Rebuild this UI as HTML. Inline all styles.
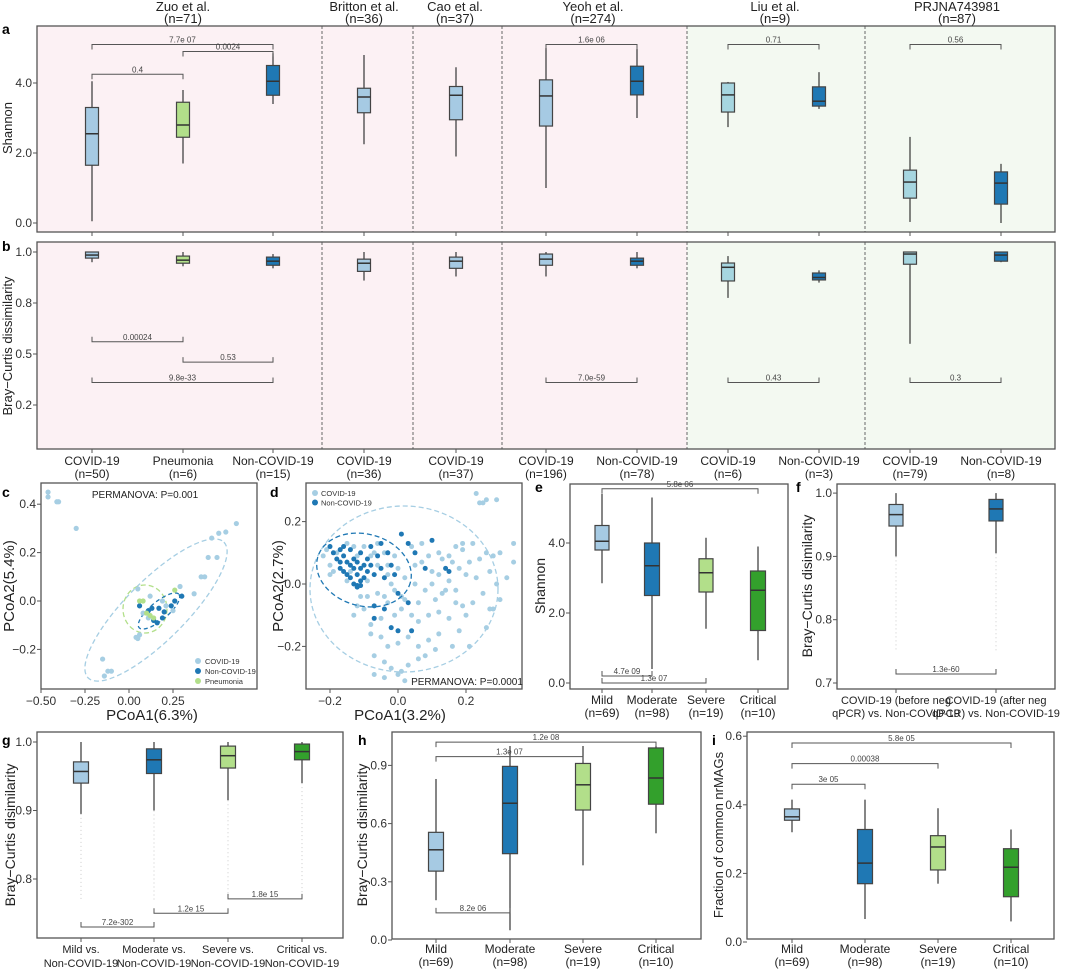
<!DOCTYPE html>
<html><head><meta charset="utf-8">
<style>
body{margin:0;background:#fff;}
svg{display:block;font-family:"Liberation Sans",Arial,sans-serif;}
</style></head>
<body>
<svg id="fig" width="1080" height="973" viewBox="0 0 1080 973" xmlns="http://www.w3.org/2000/svg"></svg>
<script>
// ---------- DATA ----------
const abCategories = ["COVID-19","Pneumonia","Non-COVID-19","COVID-19","COVID-19","COVID-19","Non-COVID-19","COVID-19","Non-COVID-19","COVID-19","Non-COVID-19"];
const abCounts = ["(n=50)","(n=6)","(n=15)","(n=36)","(n=37)","(n=196)","(n=78)","(n=6)","(n=3)","(n=79)","(n=8)"];
const abColorKey = ["lb","lg","db","lb","lb","lb","db","lt","db","lt","db"];
const studyNames = ["Zuo et al.","Britton et al.","Cao et al.","Yeoh et al.","Liu et al.","PRJNA743981"];
const studyNs = ["(n=71)","(n=36)","(n=37)","(n=274)","(n=9)","(n=87)"];
const shannonLow = [0.05,1.7,3.4,2.25,1.9,1.0,3.0,2.74,3.26,0.03,0.0];
const shannonQ1 = [1.65,2.45,3.65,3.15,2.95,2.77,3.66,3.17,3.34,0.71,0.54];
const shannonMed = [2.55,2.8,4.05,3.6,3.65,3.63,4.05,3.66,3.48,1.17,1.14];
const shannonQ3 = [3.3,3.45,4.5,3.85,3.9,4.09,4.48,4.0,3.89,1.51,1.46];
const shannonHigh = [4.05,3.8,4.85,4.8,4.45,5.0,4.97,4.03,4.31,2.46,1.69];
const bcLow = [0.95,0.93,0.92,0.86,0.88,0.88,0.92,0.775,0.85,0.55,0.95];
const bcQ1 = [0.97,0.945,0.935,0.905,0.92,0.935,0.935,0.858,0.863,0.94,0.955];
const bcMed = [0.985,0.96,0.955,0.945,0.955,0.965,0.955,0.925,0.875,0.99,0.985];
const bcQ3 = [1.0,0.98,0.975,0.965,0.975,0.99,0.97,0.946,0.897,1.0,1.0];
const bcHigh = [1.0,1.0,0.99,1.0,1.0,1.0,1.0,0.98,0.91,1.0,1.0];
const shannonTicks = [0,2,4];
const shannonTickLabels = ["0.0","2.0","4.0"];
const bTicks = [1.0,0.75,0.5,0.25];
const bTickLabels = ["1.0","0.8","0.5","0.2"];
const aBrackets = [[0,2,"7.7e 07",5.1],[1,2,"0.0024",4.9],[0,1,"0.4",4.25],[5,6,"1.6e 06",5.1],[7,8,"0.71",5.1],[9,10,"0.56",5.1]];
const bBrackets = [[0,1,"0.00024",0.56],[1,2,"0.53",0.46],[0,2,"9.8e-33",0.36],[5,6,"7.0e-59",0.36],[7,8,"0.43",0.36],[9,10,"0.3",0.36]];

const cCovid = [[-0.46,0.45],[-0.46,0.43],[-0.41,0.41],[-0.40,0.41],[-0.30,0.30],[0.61,0.32],[0.55,0.285],[0.51,0.28],[0.47,0.26],[0.45,0.18],[0.50,0.18],[0.41,0.10],[0.43,0.10],[0.37,0.03],[0.29,0.06],[-0.15,-0.24],[-0.14,-0.31],[-0.12,-0.29],[-0.10,-0.29],[0.05,0.05],[0.04,-0.15],[0.05,-0.155],[0.06,-0.14],[0.11,-0.07],[0.19,0.00],[0.12,0.02],[0.21,-0.02],[0.25,-0.04],[0.08,-0.05]];
const cNonCovid = [[0.06,-0.02],[0.11,-0.04],[0.13,-0.03],[0.17,-0.03],[0.19,-0.07],[0.14,-0.08],[0.20,-0.045],[0.24,-0.02],[0.26,0.00],[0.30,0.02],[0.16,-0.09]];
const cPneumonia = [[0.06,0.00],[0.08,0.00],[0.26,0.045],[0.10,-0.05],[0.12,-0.06],[0.14,-0.07]];
const cXTicks = [-0.5,-0.25,0,0.25];
const cXTickLabels = ["−0.50","−0.25","0.00","0.25"];
const cYTicks = [0.4,0.2,0,-0.2];
const cYTickLabels = ["0.4","0.2","0.0","−0.2"];

const dNonCovid = [[-0.2,0.12],[-0.19,0.10],[-0.18,0.08],[-0.17,0.07],[-0.17,0.05],[-0.16,0.09],[-0.16,0.04],[-0.15,0.07],[-0.15,0.03],[-0.14,0.11],[-0.14,0.06],[-0.14,0.02],[-0.13,0.08],[-0.13,0.05],[-0.13,0.00],[-0.12,0.03],[-0.12,0.07],[-0.12,-0.01],[-0.11,0.01],[-0.11,0.05],[-0.11,0.10],[-0.10,0.06],[-0.10,0.02],[-0.09,0.08],[-0.09,0.04],[-0.08,0.12],[-0.08,0.06],[-0.07,0.03],[-0.06,0.09],[-0.05,0.13],[-0.05,0.05],[-0.04,0.02],[-0.03,0.10],[-0.02,0.06],[-0.01,0.03],[0.00,-0.03],[0.01,0.16],[0.03,0.13],[0.05,0.10],[0.08,0.05],[0.10,0.14],[0.14,0.05],[0.15,0.04],[-0.07,-0.07],[-0.07,-0.11],[-0.04,-0.08],[-0.02,-0.14],[0.00,-0.15],[0.03,-0.06],[0.04,-0.15],[-0.11,-0.005],[-0.12,-0.005],[-0.17,0.11],[-0.16,0.12]];
const dCovid = [[-0.21,0.11],[-0.22,0.09],[-0.20,0.06],[-0.19,0.04],[-0.18,0.10],[-0.15,0.13],[-0.13,0.12],[-0.10,0.12],[-0.07,0.10],[-0.06,0.13],[-0.04,0.10],[-0.03,0.06],[-0.01,0.09],[0.00,0.05],[0.02,0.02],[0.04,0.12],[0.07,0.13],[0.09,0.09],[0.12,0.10],[0.13,0.08],[0.15,0.09],[0.17,0.12],[0.19,0.11],[0.21,0.07],[0.22,0.13],[0.24,0.08],[0.26,0.10],[0.28,0.09],[0.30,0.10],[0.34,0.13],[0.34,0.07],[0.23,0.29],[0.24,0.26],[0.25,0.26],[0.26,0.27],[0.29,0.27],[0.19,0.13],[0.10,0.04],[0.12,0.03],[0.15,0.01],[0.18,0.05],[0.20,0.03],[0.23,0.02],[0.27,0.04],[0.29,0.00],[0.25,-0.03],[0.27,-0.08],[0.28,-0.08],[0.26,-0.14],[0.20,-0.10],[0.21,-0.20],[0.17,-0.06],[0.14,-0.02],[0.11,-0.05],[0.08,-0.02],[0.06,-0.06],[0.05,0.00],[0.02,-0.05],[-0.01,-0.02],[-0.04,-0.04],[-0.06,-0.03],[-0.09,-0.04],[-0.10,-0.08],[-0.08,-0.13],[-0.05,-0.11],[-0.03,-0.06],[-0.01,-0.10],[0.01,-0.08],[0.04,-0.10],[0.06,-0.12],[0.09,-0.10],[0.12,-0.09],[0.15,-0.11],[0.18,-0.15],[0.12,-0.16],[0.09,-0.18],[0.06,-0.20],[0.03,-0.17],[0.00,-0.19],[-0.03,-0.20],[-0.05,-0.17],[-0.08,-0.16],[-0.07,-0.23],[-0.04,-0.25],[-0.02,-0.27],[0.00,-0.29],[0.01,-0.28],[0.03,-0.26],[0.06,-0.24],[0.08,-0.23],[0.11,-0.21],[0.16,-0.20],[-0.07,-0.29],[-0.04,-0.30],[0.02,-0.31],[-0.12,-0.07],[-0.13,-0.10],[-0.11,-0.04],[-0.15,0.01],[-0.14,0.04],[-0.12,0.09],[-0.09,0.01],[-0.06,0.06],[-0.08,0.09],[-0.02,0.00],[0.01,-0.04],[0.07,0.07],[0.10,0.00],[0.13,-0.03],[0.16,0.07],[0.05,0.06],[-0.03,0.03],[-0.20,0.03],[0.32,0.02],[0.30,-0.05],[0.22,-0.06],[0.17,-0.02],[0.19,-0.07]];
const dXTicks = [-0.2,0,0.2];
const dXTickLabels = ["−0.2","0.0","0.2"];
const dYTicks = [0.2,0,-0.2];
const dYTickLabels = ["0.2","0.0","−0.2"];

const sevCategories = ["Mild","Moderate","Severe","Critical"];
const sevCounts = ["(n=69)","(n=98)","(n=19)","(n=10)"];
const sevColorKey = ["lb","db","lg","dg"];
const eLow = [2.85,0.4,1.55,0.65], eQ1=[3.8,2.5,2.6,1.5], eMed=[4.05,3.35,3.15,2.65], eQ3=[4.5,4.0,3.55,3.2], eHigh=[5.4,5.3,4.15,3.9];
const eWidths = [14,15,14,15];
const eTicks=[0,2,4], eTickLabels=["0.0","2.0","4.0"];
const eBrackets = [[0,3,"5.8e 06",5.55,1],[0,1,"4.7e 09",0.2,-1],[0,2,"1.3e 07",0.0,-1]];

const fCategories1 = ["COVID-19 (before neg","COVID-19 (after neg"];
const fCategories2 = ["qPCR) vs. Non-COVID-19","qPCR) vs. Non-COVID-19"];
const fLow=[0.90,0.905], fQ1=[0.948,0.956], fMed=[0.966,0.975], fQ3=[0.982,0.99], fHigh=[1.0,1.0];
const fTicks=[1.0,0.9,0.8,0.7], fTickLabels=["1.0","0.9","0.8","0.7"];

const gCategories1 = ["Mild vs.","Moderate vs.","Severe vs.","Critical vs."];
const gLow=[0.895,0.9,0.915,0.94], gQ1=[0.94,0.954,0.962,0.974], gMed=[0.957,0.974,0.98,0.986], gQ3=[0.971,0.99,0.994,0.997], gHigh=[1.0,1.0,1.0,1.0];
const gTicks=[1.0,0.9,0.8], gTickLabels=["1.0","0.9","0.8"];
const gBrackets=[[0,1,"7.2e-302",0.73],[1,2,"1.2e 15",0.75],[2,3,"1.8e 15",0.771]];

const hLow=[0.205,0.05,0.385,0.55], hQ1=[0.355,0.445,0.67,0.70], hMed=[0.465,0.705,0.80,0.835], hQ3=[0.555,0.895,0.91,0.99], hHigh=[0.83,1.0,1.0,1.0];
const hTicks=[0,0.3,0.6,0.9], hTickLabels=["0.0","0.3","0.6","0.9"];
const hBrackets=[[0,3,"1.2e 08",1.02,1],[0,2,"1.3e 07",0.945,1],[0,1,"8.2e 06",0.14,-1]];

const iLow=[0.32,0.067,0.17,0.06], iQ1=[0.355,0.17,0.21,0.132], iMed=[0.365,0.23,0.277,0.218], iQ3=[0.388,0.328,0.31,0.272], iHigh=[0.415,0.415,0.39,0.328];
const iTicks=[0,0.2,0.4,0.6], iTickLabels=["0.0","0.2","0.4","0.6"];
const iBrackets=[[0,3,"5.8e 05",0.58,1],[0,2,"0.00038",0.52,1],[0,1,"3e 05",0.46,1]];

// ---------- HELPERS ----------
const NS="http://www.w3.org/2000/svg";
const svg=document.getElementById('fig');
const COL={lb:"#a6cae3",lt:"#a6d6e0",db:"#1f78b4",lg:"#b2df8a",dg:"#33a02c"};
function mk(tag,attrs,name,parent){
  const el=document.createElementNS(NS,tag);
  for(const k in attrs) el.setAttribute(k,attrs[k]);
  
  
  (parent||svg).appendChild(el);
  return el;
}
function txt(x,y,s,size,name,opts){
  opts=opts||{};
  const a={x:x,y:y,'font-size':size,fill:opts.fill||"#222",'text-anchor':opts.anchor||"middle"};
  if(opts.weight) a['font-weight']=opts.weight;
  if(opts.rot) a.transform="rotate(-90 "+x+" "+y+")";
  const t=mk('text',a,name);
  t.textContent=s;
  return t;
}
function ln(x1,y1,x2,y2,name,stroke,w,dash){
  const a={x1:x1,y1:y1,x2:x2,y2:y2,stroke:stroke||"#444",'stroke-width':w||1};
  if(dash) a['stroke-dasharray']=dash;
  return mk('line',a,name);
}
function box(x,w,sc,lo,q1,md,q3,hi,color,name){
  ln(x,sc(lo),x,sc(hi),name+'-whisker',"#444",1.3);
  const top=sc(q3),bot=sc(q1);
  mk('rect',{x:x-w/2,y:top,width:w,height:Math.max(bot-top,1),fill:color,stroke:"#444",'stroke-width':1.2},name+'-box');
  ln(x-w/2,sc(md),x+w/2,sc(md),name+'-median',"#333",1.5);
}
function bracket(x1,x2,y,label,dir,name){
  const d=dir*5;
  mk('path',{d:"M"+x1+" "+(y+d)+"V"+y+"H"+x2+"V"+(y+d),fill:"none",stroke:"#555",'stroke-width':1},name);
  txt((x1+x2)/2,y-2,label,8,name+'-label',{fill:"#444"});
}
function frame(x,y,w,h,name){
  mk('rect',{x:x,y:y,width:w,height:h,fill:"none",stroke:"#555",'stroke-width':1.3},name);
}
function yAxis(x,ticks,labels,sc,name){
  ticks.forEach((t,k)=>{ln(x-4,sc(t),x,sc(t),name+'-tick',"#555",1);txt(x-5,sc(t)+4,labels[k],12,name+'-label',{anchor:"end",fill:"#333"});});
}
function xAxis(y,ticks,labels,sc,name){
  ticks.forEach((t,k)=>{ln(sc(t),y,sc(t),y+4,name+'-tick',"#555",1);txt(sc(t),y+16,labels[k],12,name+'-label',{fill:"#333"});});
}
function letter(x,y,s){txt(x,y,s,14,'panel-label-'+s,{anchor:"start",weight:"bold",fill:"#000"});}

// ---------- PANELS A/B ----------
const abX=[92,183,273,364,456,546,637,728,819,910,1001];
const ya=v=>223-v*35, yb=v=>252+(1-v)*204;
[[26,206],[242,207]].forEach(([y,h],k)=>{
  mk('rect',{x:37,y:y,width:650,height:h,fill:"#fcf1f4"},'pink-background');
  mk('rect',{x:687,y:y,width:368,height:h,fill:"#f3f9f1"},'green-background');
  [322,413,502,687,865].forEach(dx=>ln(dx,y,dx,y+h,'study-divider',"#666",1,"3,2"));
  frame(37,y,1018,h,k?'panel-b-frame':'panel-a-frame');
});
[183,364,455,593,775,957].forEach((cx,k)=>{txt(cx,11,studyNames[k],13,'study-title');txt(cx,23,studyNs[k],13,'study-n');});
letter(2,34,"a");letter(2,251,"b");
yAxis(37,shannonTicks,shannonTickLabels,ya,'a-y');
yAxis(37,bTicks,bTickLabels,yb,'b-y');
txt(12,128,"Shannon",13,'a-y-title',{rot:1});
txt(12,346,"Bray−Curtis dissimilarity",13,'b-y-title',{rot:1});
abX.forEach((x,k)=>{
  const c=COL[abColorKey[k]];
  ln(x,232,x,236,'a-x-tick',"#555",1);ln(x,449,x,453,'b-x-tick',"#555",1);
  box(x,13,ya,shannonLow[k],shannonQ1[k],shannonMed[k],shannonQ3[k],shannonHigh[k],c,'a-'+k);
  box(x,13,yb,bcLow[k],bcQ1[k],bcMed[k],bcQ3[k],bcHigh[k],c,'b-'+k);
  txt(x,465,abCategories[k],12,'b-x-category');
  txt(x,478,abCounts[k],12,'b-x-count');
});
aBrackets.forEach(b=>bracket(abX[b[0]],abX[b[1]],ya(b[3]),b[2],1,'a-bracket'));
bBrackets.forEach(b=>bracket(abX[b[0]],abX[b[1]],yb(b[3]),b[2],-1,'b-bracket'));

// ---------- PANEL C ----------
const cx=v=>129+v*176, cy=v=>601-v*242;
letter(2,497,"c");
frame(41,483,216,206,'panel-c-frame');
mk('ellipse',{cx:156,cy:610,rx:96,ry:30,transform:"rotate(-45 156 610)",fill:"none",stroke:"#a6cee3",'stroke-width':1.3,'stroke-dasharray':"5,3"},'c-covid-ellipse');
mk('ellipse',{cx:145,cy:609,rx:22,ry:24,fill:"none",stroke:"#b2df8a",'stroke-width':1.3,'stroke-dasharray':"5,3"},'c-pneumonia-ellipse');
mk('ellipse',{cx:159,cy:611,rx:26,ry:9,transform:"rotate(-40 159 611)",fill:"none",stroke:"#1f78b4",'stroke-width':1.3,'stroke-dasharray':"4,3"},'c-noncovid-ellipse');
cCovid.forEach(p=>mk('circle',{cx:cx(p[0]),cy:cy(p[1]),r:2.6,fill:"#a6cee3"},'c-point-covid'));
cNonCovid.forEach(p=>mk('circle',{cx:cx(p[0]),cy:cy(p[1]),r:2.6,fill:"#1f78b4"},'c-point-noncovid'));
cPneumonia.forEach(p=>mk('circle',{cx:cx(p[0]),cy:cy(p[1]),r:2.6,fill:"#b2df8a"},'c-point-pneumonia'));
yAxis(41,cYTicks,cYTickLabels,cy,'c-y');
xAxis(689,cXTicks,cXTickLabels,cx,'c-x');
txt(145,498,"PERMANOVA: P=0.001",10,'c-permanova');
[["COVID-19","#a6cee3"],["Non-COVID-19","#1f78b4"],["Pneumonia","#b2df8a"]].forEach((l,k)=>{
  mk('circle',{cx:198,cy:661+k*10,r:3,fill:l[1]},'c-legend-marker');
  txt(205,664+k*10,l[0],7.5,'c-legend-entry',{anchor:"start",fill:"#333"});
});
txt(152,720,"PCoA1(6.3%)",15,'c-x-title');
txt(14,586,"PCoA2(5.4%)",15,'c-y-title',{rot:1});

// ---------- PANEL D ----------
const dx=v=>398+v*340, dy=v=>584-v*312;
letter(270,497,"d");
frame(306,483,216,206,'panel-d-frame');
dCovid.forEach(p=>mk('circle',{cx:dx(p[0]),cy:dy(p[1]),r:2.5,fill:"#a6cee3"},'d-point-covid'));
dNonCovid.forEach(p=>mk('circle',{cx:dx(p[0]),cy:dy(p[1]),r:2.5,fill:"#1f78b4"},'d-point-noncovid'));
mk('ellipse',{cx:404,cy:589,rx:94,ry:83,fill:"none",stroke:"#a6cee3",'stroke-width':1.3,'stroke-dasharray':"5,3"},'d-covid-ellipse');
mk('ellipse',{cx:364,cy:570,rx:48,ry:36,transform:"rotate(15 364 570)",fill:"none",stroke:"#1f78b4",'stroke-width':1.3,'stroke-dasharray':"5,3"},'d-noncovid-ellipse');
yAxis(306,dYTicks,dYTickLabels,dy,'d-y');
xAxis(689,dXTicks,dXTickLabels,dx,'d-x');
[["COVID-19","#a6cee3"],["Non-COVID-19","#1f78b4"]].forEach((l,k)=>{
  mk('circle',{cx:315,cy:493+k*9.5,r:3,fill:l[1]},'d-legend-marker');
  txt(321,496+k*9.5,l[0],7.5,'d-legend-entry',{anchor:"start",fill:"#333"});
});
txt(467,685,"PERMANOVA: P=0.0001",10,'d-permanova');
txt(400,720,"PCoA1(3.2%)",15,'d-x-title');
txt(283,586,"PCoA2(2.7%)",15,'d-y-title',{rot:1});

// ---------- PANEL E ----------
const sevX_e=[602,652,706,758];
const ye=v=>683-v*35;
letter(535,492,"e");
frame(570,484,218,205,'panel-e-frame');
yAxis(570,eTicks,eTickLabels,ye,'e-y');
sevX_e.forEach((x,k)=>{
  ln(x,689,x,693,'e-x-tick',"#555",1);
  box(x,eWidths[k],ye,eLow[k],eQ1[k],eMed[k],eQ3[k],eHigh[k],COL[sevColorKey[k]],'e-'+k);
  txt(x,704,sevCategories[k],12,'e-x-category');txt(x,717,sevCounts[k],12,'e-x-count');
});
eBrackets.forEach(b=>bracket(sevX_e[b[0]],sevX_e[b[1]],ye(b[3]),b[2],b[4],'e-bracket'));
txt(545,586,"Shannon",14,'e-y-title',{rot:1});

// ---------- PANEL F ----------
const fX=[896,996];
const yf=v=>683-(v-0.7)*633;
const fColors=[COL.lb,COL.db];
letter(796,492,"f");
frame(837,484,218,205,'panel-f-frame');
yAxis(837,fTicks,fTickLabels,yf,'f-y');
fX.forEach((x,k)=>{
  ln(x,689,x,693,'f-x-tick',"#555",1);
  ln(x,yf(fLow[k]),x,yf(0.75),'f-outliers',"#ccc",1,"1,3");
  box(x,14,yf,fLow[k],fQ1[k],fMed[k],fQ3[k],fHigh[k],fColors[k],'f-'+k);
  txt(x,704,fCategories1[k],11,'f-x-category');txt(x,717,fCategories2[k],11,'f-x-category-2');
});
bracket(896,996,674,"1.3e-60",-1,'f-bracket');
txt(812,586,"Bray−Curtis disimilarity",14,'f-y-title',{rot:1});

// ---------- PANEL G ----------
const gX=[81,154,228,302];
const yg=v=>742+(1-v)*685;
letter(2,745,"g");
frame(37,732,306,206,'panel-g-frame');
yAxis(37,gTicks,gTickLabels,yg,'g-y');
gX.forEach((x,k)=>{
  ln(x,938,x,942,'g-x-tick',"#555",1);
  ln(x,yg(gLow[k]),x,yg(0.77),'g-outliers',"#ccc",1,"1,3");
  box(x,15,yg,gLow[k],gQ1[k],gMed[k],gQ3[k],gHigh[k],COL[sevColorKey[k]],'g-'+k);
  txt(x,953,gCategories1[k],11,'g-x-category');txt(x,967,"Non-COVID-19",11,'g-x-category-2');
});
gBrackets.forEach(b=>bracket(gX[b[0]],gX[b[1]],yg(b[3]),b[2],-1,'g-bracket'));
txt(15,835,"Bray−Curtis disimilarity",14,'g-y-title',{rot:1});

// ---------- PANEL H ----------
const hX=[436,510,583,656];
const yh=v=>940-v*194;
letter(358,745,"h");
frame(392,732,309,207,'panel-h-frame');
yAxis(392,hTicks,hTickLabels,yh,'h-y');
hX.forEach((x,k)=>{
  ln(x,939,x,943,'h-x-tick',"#555",1);
  box(x,15,yh,hLow[k],hQ1[k],hMed[k],hQ3[k],hHigh[k],COL[sevColorKey[k]],'h-'+k);
  txt(x,953,sevCategories[k],12,'h-x-category');txt(x,966,sevCounts[k],12,'h-x-count');
});
hBrackets.forEach(b=>bracket(hX[b[0]],hX[b[1]],yh(b[3]),b[2],b[4],'h-bracket'));
txt(367,835,"Bray−Curtis disimilarity",14,'h-y-title',{rot:1});

// ---------- PANEL I ----------
const iX=[792,865,938,1011];
const yi=v=>942-v*343;
letter(712,745,"i");
frame(747,732,307,207,'panel-i-frame');
yAxis(747,iTicks,iTickLabels,yi,'i-y');
iX.forEach((x,k)=>{
  ln(x,939,x,943,'i-x-tick',"#555",1);
  box(x,15,yi,iLow[k],iQ1[k],iMed[k],iQ3[k],iHigh[k],COL[sevColorKey[k]],'i-'+k);
  txt(x,953,sevCategories[k],12,'i-x-category');txt(x,966,sevCounts[k],12,'i-x-count');
});
iBrackets.forEach(b=>bracket(iX[b[0]],iX[b[1]],yi(b[3]),b[2],b[4],'i-bracket'));
txt(723,835,"Fraction of common nrMAGs",13,'i-y-title',{rot:1});
</script>
</body></html>
